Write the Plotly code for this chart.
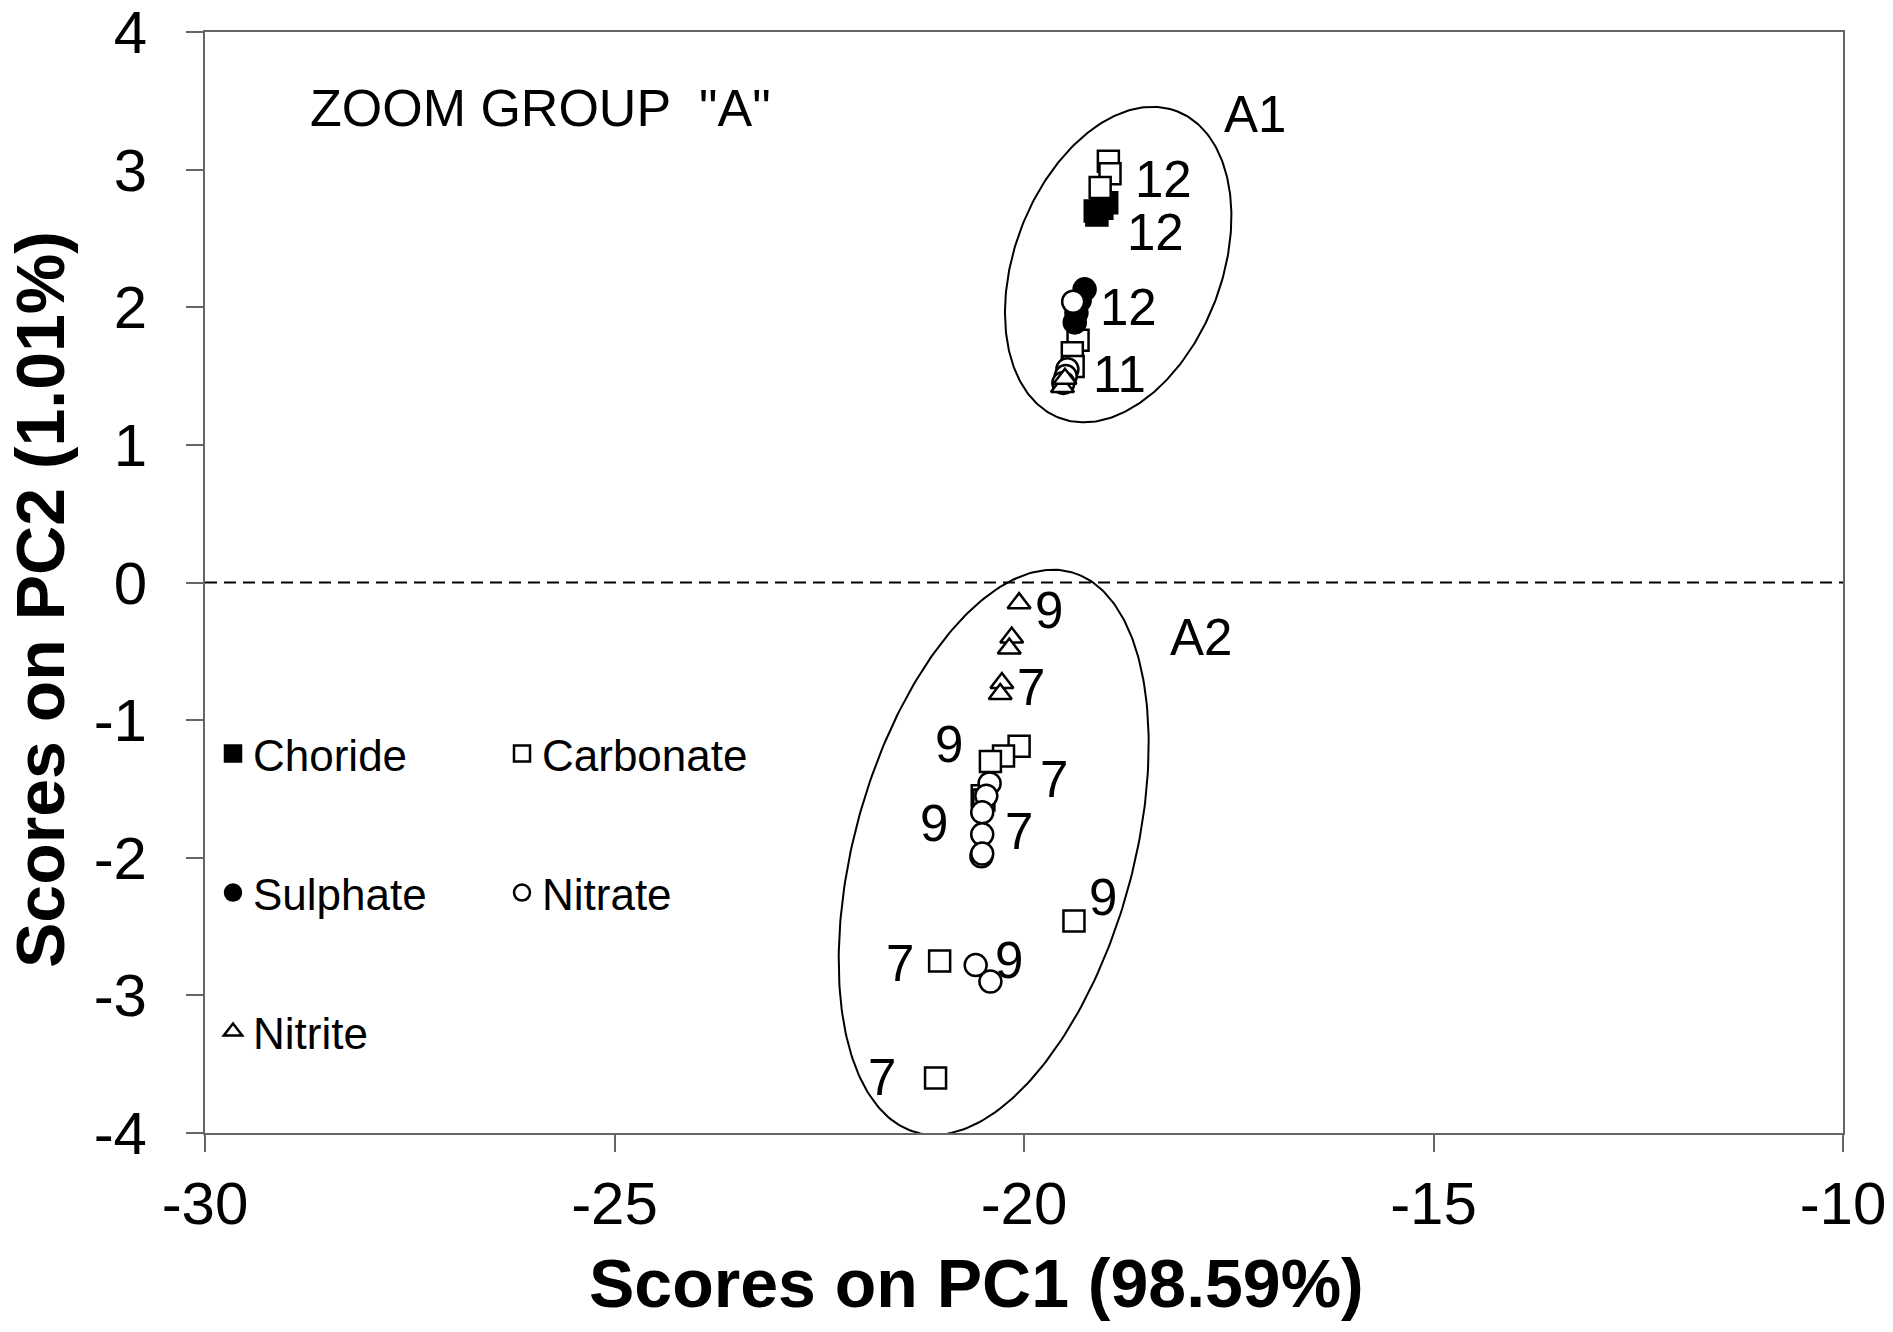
import numpy as np
import plotly.graph_objects as go

# scores
choride_x = [-19.13, -19.05, -18.99, -19.11]
choride_y = [2.70, 2.72, 2.76, 2.67]

carbonate_x = [-18.97, -18.95, -19.07, -19.34, -19.41, -19.40,
               -20.06, -20.25, -20.41, -20.51, -20.49, -19.39, -21.03, -21.08]
carbonate_y = [3.06, 2.97, 2.87, 1.76, 1.67, 1.57,
               -1.19, -1.26, -1.30, -1.55, -1.58, -2.46, -2.75, -3.60]

sulphate_x = [-19.26, -19.32, -19.36, -19.38]
sulphate_y = [2.13, 2.05, 1.96, 1.89]

nitrate_x = [-19.40, -19.47, -19.49, -19.52,
             -20.42, -20.46, -20.51, -20.51, -20.52, -20.51, -20.59, -20.41]
nitrate_y = [2.04, 1.55, 1.50, 1.45,
             -1.46, -1.55, -1.67, -1.83, -1.99, -1.97, -2.78, -2.90]

nitrite_x = [-19.53, -19.50, -20.06, -20.15, -20.18, -20.27, -20.29]
nitrite_y = [1.42, 1.48, -0.15, -0.40, -0.48, -0.73, -0.81]

# sample labels (months)
label_text = ['12', '12', '12', '11', '9', '7', '9', '7', '9', '7', '9', '9', '7', '7']
label_x = [-18.30, -18.40, -18.73, -18.83, -19.69, -19.91, -20.91, -19.63,
           -21.10, -20.06, -19.03, -20.18, -21.52, -21.73]
label_y = [2.93, 2.54, 2.00, 1.51, -0.20, -0.76, -1.18, -1.43,
           -1.75, -1.81, -2.29, -2.75, -2.77, -3.60]

# group ellipses: centre (data), semi axes (px), tilt from vertical (deg)
groups = ['A1', 'A2']
group_cx = [-18.85, -20.37]
group_cy = [2.31, -1.96]
group_a = [164.2, 290.6]
group_b = [103.6, 139.2]
group_tilt = [21.0, 15.5]
group_lab_x = [-17.18, -17.84]
group_lab_y = [3.40, -0.40]

x_ticks = [-30, -25, -20, -15, -10]
y_ticks = [-4, -3, -2, -1, 0, 1, 2, 3, 4]

FONT = 'Liberation Sans, Arial, sans-serif'
PX_X = 81.9   # px per unit on x
PX_Y = 137.6  # px per unit on y

# page body has an 8px margin, so the figure is drawn 8px smaller/offset
OFF = 8
W, H = 1893 - OFF, 1332 - OFF
ML, MR, MT, MB = 205 - OFF, 50, 32 - OFF, 199
pw, ph = W - ML - MR, H - MT - MB


def px_x(px):
    return (px - OFF - ML) / pw


def px_y(py):
    return (H - MB - (py - OFF)) / ph


fig = go.Figure()

series = [
    ('Choride', choride_x, choride_y, 'square', 'black', 'legend', 21),
    ('Carbonate', carbonate_x, carbonate_y, 'square', 'white', 'legend', 21),
    ('Sulphate', sulphate_x, sulphate_y, 'circle', 'black', 'legend2', 22),
    ('Nitrate', nitrate_x, nitrate_y, 'circle', 'white', 'legend2', 22),
    ('Nitrite', nitrite_x, nitrite_y, 'triangle-up', 'white', 'legend3', 20),
]
for name, xs, ys, sym, fill, leg, sz in series:
    fig.add_trace(go.Scatter(x=xs, y=ys, mode='markers', name=name, legend=leg,
                             marker=dict(symbol=sym, color=fill, size=sz,
                                         line=dict(color='black', width=2.5))))

# ellipses round the groups
t = np.linspace(0, 2 * np.pi, 300)
for cx, cy, a, b, tilt in zip(group_cx, group_cy, group_a, group_b, group_tilt):
    phi = np.radians(tilt)
    ex = cx + (a * np.sin(phi) * np.cos(t) + b * np.cos(phi) * np.sin(t)) / PX_X
    ey = cy + (a * np.cos(phi) * np.cos(t) - b * np.sin(phi) * np.sin(t)) / PX_Y
    fig.add_trace(go.Scatter(x=ex, y=ey, mode='lines', showlegend=False,
                             line=dict(color='black', width=2), hoverinfo='skip'))

# dashed zero line
fig.add_shape(type='line', xref='x', yref='y', x0=-30, x1=-10, y0=0, y1=0,
              line=dict(color='black', width=2, dash='12px,7px'))

for txt, x, y in zip(label_text, label_x, label_y):
    fig.add_annotation(x=x, y=y, text=txt, showarrow=False,
                       font=dict(family=FONT, size=51, color='black'))
for txt, x, y in zip(groups, group_lab_x, group_lab_y):
    fig.add_annotation(x=x, y=y, text=txt, showarrow=False,
                       font=dict(family=FONT, size=51, color='black'))
fig.add_annotation(x=-28.74, y=3.45, text='ZOOM GROUP  "A"', showarrow=False,
                   xanchor='left', font=dict(family=FONT, size=52, color='black'))

# axis titles
fig.add_annotation(x=px_x(976), y=px_y(1283), xref='paper', yref='paper',
                   text='<b>Scores on PC1 (98.59%)</b>', showarrow=False,
                   xanchor='center', yanchor='middle',
                   font=dict(family=FONT, size=68, color='black'))
fig.add_annotation(x=px_x(40), y=px_y(600), xref='paper', yref='paper',
                   text='<b>Scores on PC2 (1.01%)</b>', textangle=-90, showarrow=False,
                   xanchor='center', yanchor='middle',
                   font=dict(family=FONT, size=68, color='black'))

leg_common = dict(orientation='h', xanchor='left', yanchor='middle', entrywidth=244,
                  bgcolor='rgba(0,0,0,0)', font=dict(family=FONT, size=44, color='black'),
                  itemclick=False, tracegroupgap=0)

axis_common = dict(showgrid=False, zeroline=False, showline=True, linecolor='#666', linewidth=2,
                   mirror=True, ticks='outside', ticklen=17, tickwidth=2, tickcolor='#666',
                   automargin=False, ticklabeloverflow='allow',
                   tickfont=dict(family=FONT, size=60, color='black'))

fig.update_layout(
    width=W, height=H,
    margin=dict(l=ML, r=MR, t=MT, b=MB),
    paper_bgcolor='white', plot_bgcolor='white',
    font=dict(family=FONT, size=60, color='black'),
    legend=dict(x=px_x(213), y=px_y(754), **leg_common),
    legend2=dict(x=px_x(213), y=px_y(893), **leg_common),
    legend3=dict(x=px_x(213), y=px_y(1032), **leg_common),
    xaxis=dict(range=[-30, -10], tickvals=x_ticks, ticktext=[str(v) for v in x_ticks],
               **axis_common),
    yaxis=dict(range=[-4, 4], tickvals=y_ticks, ticktext=[str(v) for v in y_ticks],
               ticklabelstandoff=27, **axis_common),
)

fig.write_html("out.html")
